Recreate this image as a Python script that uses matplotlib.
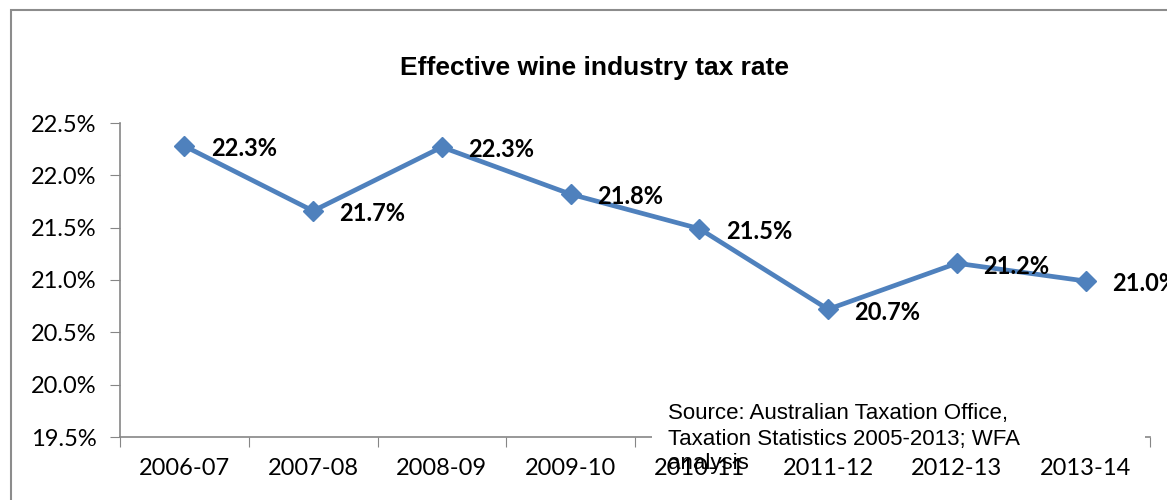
import matplotlib
matplotlib.use("Agg")
import matplotlib.pyplot as plt
import numpy as np
from matplotlib.patches import Rectangle

periods = ["2006-07", "2007-08", "2008-09", "2009-10", "2010-11", "2011-12", "2012-13", "2013-14"]
tax_rate = [22.28, 21.66, 22.27, 21.82, 21.49, 20.72, 21.16, 20.99]
y_ticks = [19.5, 20.0, 20.5, 21.0, 21.5, 22.0, 22.5]

source_note = "Source: Australian Taxation Office,\nTaxation Statistics 2005-2013; WFA\nanalysis"

LINE = "#4F81BD"
AXIS = "#868686"
W, H = 1167, 500

fig = plt.figure(figsize=(W / 100, H / 100), dpi=100)
ax = fig.add_axes([120 / W, 1 - 437 / H, 1030 / W, 314 / H])

x = np.arange(len(periods))
ax.plot(x, tax_rate, color=LINE, lw=3.4, marker="D", ms=10.5, zorder=3)

for xi, v in zip(x, tax_rate):
    ax.annotate(f"{v:.1f}%", (xi, v), xytext=(19, -2), textcoords="offset points",
                ha="left", va="center", fontsize=17, fontweight="bold",
                family="Lato", color="black", annotation_clip=False)

ax.set_xlim(-0.5, len(periods) - 0.5)
ax.set_ylim(19.5, 22.5)
ax.set_yticks(y_ticks)
ax.set_yticklabels([f"{t:.1f}%" for t in y_ticks], family="Lato", fontsize=17)

# tick marks sit between categories, labels at the category centres
ax.set_xticks(np.arange(len(periods) + 1) - 0.5)
ax.set_xticklabels([])
ax.set_xticks(x, minor=True)
ax.set_xticklabels(periods, minor=True, family="Lato", fontsize=17)
ax.tick_params(axis="x", which="major", length=7, color=AXIS, direction="out")
ax.tick_params(axis="x", which="minor", length=0, pad=15)
ax.tick_params(axis="y", length=7, color=AXIS, direction="out", pad=10)

for side in ("top", "right"):
    ax.spines[side].set_visible(False)
for side in ("left", "bottom"):
    ax.spines[side].set_color(AXIS)
    ax.spines[side].set_linewidth(1.2)

fig.text(595 / W, 1 - 68 / H, "Effective wine industry tax rate", ha="center", va="center",
         fontsize=19, fontweight="bold", family="Liberation Sans")

# white text box holding the source note, drawn over the axis line
fig.add_artist(Rectangle((652 / W, 1 - 452 / H), 493 / W, 57 / H,
                         transform=fig.transFigure, facecolor="white", edgecolor="none", zorder=2))
fig.text(668 / W, 1 - 439 / H, source_note, ha="left", va="center", fontsize=16,
         family="Liberation Sans", linespacing=1.25, zorder=4)

# outer chart frame
fig.add_artist(Rectangle((11 / W, -0.2), 1.2, 1.18, transform=fig.transFigure,
                         fill=False, edgecolor="#8c8c8c", lw=1.5, zorder=5))

fig.savefig("out.png", dpi=100)
